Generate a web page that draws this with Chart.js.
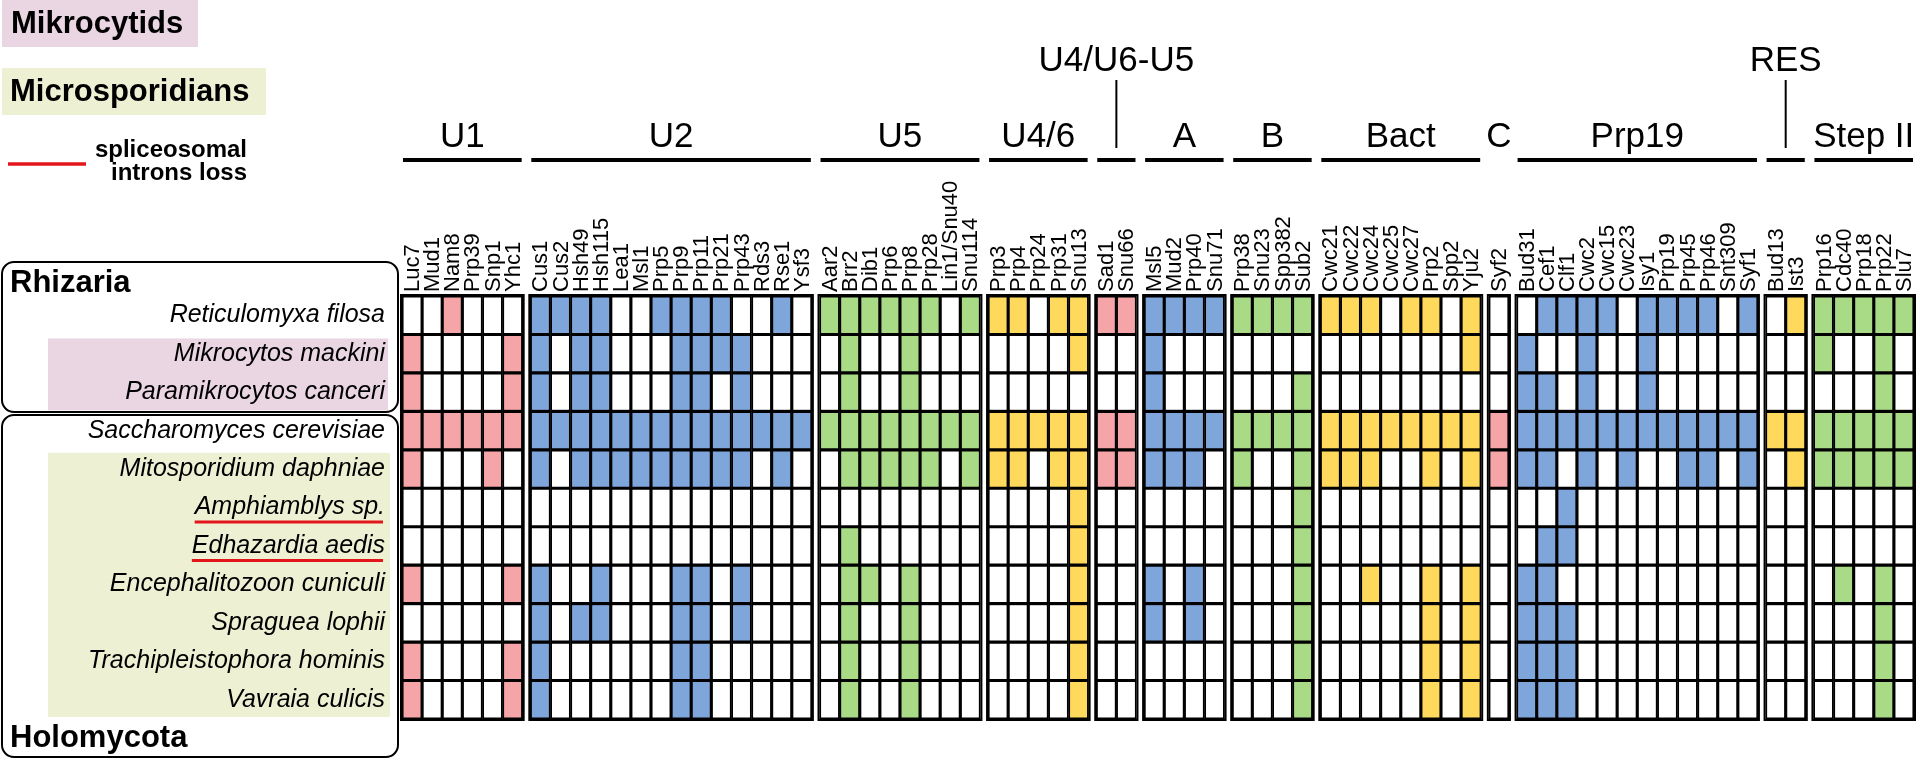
<!DOCTYPE html>
<html>
<head>
<meta charset="utf-8">
<script src="https://cdn.jsdelivr.net/npm/chart.js@4.4.0/dist/chart.umd.min.js"></script>
<style>
  html, body { margin: 0; padding: 0; background: #fff; }
  #wrap { width: 1920px; height: 761px; position: relative; }
</style>
</head>
<body>
<div id="wrap"><canvas id="grid"></canvas></div>
<script>
// species (rows, top to bottom)
const species = ['Reticulomyxa filosa', 'Mikrocytos mackini', 'Paramikrocytos canceri',
  'Saccharomyces cerevisiae', 'Mitosporidium daphniae', 'Amphiamblys sp.', 'Edhazardia aedis',
  'Encephalitozoon cuniculi', 'Spraguea lophii', 'Trachipleistophora hominis', 'Vavraia culicis'];
const intronLoss = ['Amphiamblys sp.', 'Edhazardia aedis'];
const mikrocytids = ['Mikrocytos mackini', 'Paramikrocytos canceri'];
const microsporidians = ['Mitosporidium daphniae', 'Amphiamblys sp.', 'Edhazardia aedis',
  'Encephalitozoon cuniculi', 'Spraguea lophii', 'Trachipleistophora hominis', 'Vavraia culicis'];

// spliceosome complexes and their proteins (columns)
const groupNames = ['U1', 'U2', 'U5', 'U4/6', 'U4/U6-U5', 'A', 'B', 'Bact', 'C', 'Prp19', 'RES', 'Step II'];
const raisedGroups = ['U4/U6-U5', 'RES'];
const unlinedGroups = ['C'];
const groupGenes = [
  ['Luc7', 'Mud1', 'Nam8', 'Prp39', 'Snp1', 'Yhc1'],
  ['Cus1', 'Cus2', 'Hsh49', 'Hsh115', 'Lea1', 'Msl1', 'Prp5', 'Prp9', 'Prp11', 'Prp21', 'Prp43', 'Rds3', 'Rse1', 'Ysf3'],
  ['Aar2', 'Brr2', 'Dib1', 'Prp6', 'Prp8', 'Prp28', 'Lin1/Snu40', 'Snu114'],
  ['Prp3', 'Prp4', 'Prp24', 'Prp31', 'Snu13'],
  ['Sad1', 'Snu66'],
  ['Msl5', 'Mud2', 'Prp40', 'Snu71'],
  ['Prp38', 'Snu23', 'Spp382', 'Sub2'],
  ['Cwc21', 'Cwc22', 'Cwc24', 'Cwc25', 'Cwc27', 'Prp2', 'Spp2', 'Yju2'],
  ['Syf2'],
  ['Bud31', 'Cef1', 'Clf1', 'Cwc2', 'Cwc15', 'Cwc23', 'Isy1', 'Prp19', 'Prp45', 'Prp46', 'Snt309', 'Syf1'],
  ['Bud13', 'Ist3'],
  ['Prp16', 'Cdc40', 'Prp18', 'Prp22', 'Slu7']
];
const groupColors = ['#F5A4A7', '#7FA6DB', '#A9DB87', '#FFD95B', '#F5A4A7', '#7FA6DB',
  '#A9DB87', '#FFD95B', '#F5A4A7', '#7FA6DB', '#FFD95B', '#A9DB87'];

// presence (1) / absence (0), one block per complex, one string per species
const presence = [
  '001000 11110011110010 11111101 11011 11 1111 1111 11101101 0 011110111101 01 11111',
  '100001 10110001111000 01001000 00001 00 1000 0000 00000001 0 100100100000 00 10010',
  '100001 10110001101000 01001000 00000 00 1000 0001 00000000 0 110100100000 00 00010',
  '111111 11111111111111 11111111 11111 11 1111 1111 11111111 1 111111111111 11 11111',
  '100010 10111111111010 01111101 11011 11 1110 1001 11100101 1 110101001101 01 11111',
  '000000 00000000000000 00000000 00001 00 0000 0001 00000000 0 001000000000 00 00000',
  '000000 00000000000000 01000000 00001 00 0000 0001 00000000 0 011000000000 00 00000',
  '100001 10010001101000 01101000 00001 00 1010 0001 00100101 0 110000000000 00 01010',
  '000000 10110001101000 01001000 00001 00 1010 0001 00000101 0 111000000000 00 00010',
  '100001 10000001100000 01001000 00001 00 0000 0001 00000101 0 111000000000 00 00010',
  '100001 10000001100000 01001000 00001 00 0000 0001 00000101 0 111000000000 00 00010'
];

const GAP = 0.38; // space between complexes, in columns
const FONT = '"Liberation Sans", Arial, sans-serif';

// x position of each column, per complex
const xVals = [];
let col = 0;
groupGenes.forEach((g, k) => {
  xVals.push(g.map((_, j) => col + j + k * GAP));
  col += g.length;
});
const allX = xVals.flat();

const datasets = species.map((sp, r) => {
  const bits = presence[r].split(' ');
  const data = [];
  const bg = [];
  groupGenes.forEach((g, k) => g.forEach((_, j) => {
    data.push({ x: xVals[k][j], y: [r, r + 1] });
    bg.push(bits[k][j] === '1' ? groupColors[k] : '#ffffff');
  }));
  return {
    label: sp, data: data, backgroundColor: bg,
    borderColor: '#000', borderWidth: 1.9, borderSkipped: false,
    grouped: false, barPercentage: 1, categoryPercentage: 1
  };
});

const panel = {
  id: 'panel',
  afterDraw(chart) {
    const ctx = chart.ctx;
    const x = chart.scales.x;
    const y = chart.scales.y;
    const top = y.getPixelForValue(0);
    const bottom = y.getPixelForValue(species.length);
    ctx.save();

    // legend
    ctx.fillStyle = '#E9D6E2';
    ctx.fillRect(2, 0, 196, 47);
    ctx.fillStyle = '#EEF0D3';
    ctx.fillRect(2, 68, 264, 47);
    ctx.fillStyle = '#000';
    ctx.textBaseline = 'middle';
    ctx.textAlign = 'left';
    ctx.font = 'bold 31px ' + FONT;
    ctx.fillText('Mikrocytids', 11, 24);
    ctx.fillText('Microsporidians', 10, 92);
    ctx.strokeStyle = '#E3161B';
    ctx.lineWidth = 3.5;
    ctx.beginPath(); ctx.moveTo(8, 164); ctx.lineTo(86, 164); ctx.stroke();
    ctx.textAlign = 'right';
    ctx.font = 'bold 24px ' + FONT;
    ctx.fillText('spliceosomal', 247, 150);
    ctx.fillText('introns loss', 247, 173);

    // highlight bands behind species names
    const rowTop = (name) => y.getPixelForValue(species.indexOf(name));
    const rowBot = (name) => y.getPixelForValue(species.indexOf(name) + 1);
    ctx.fillStyle = '#E9D6E2';
    ctx.fillRect(48, rowTop(mikrocytids[0]) + 4, 340, rowBot(mikrocytids[mikrocytids.length - 1]) - rowTop(mikrocytids[0]) - 5);
    ctx.fillStyle = '#EEF0D3';
    ctx.fillRect(48, rowTop(microsporidians[0]) + 3, 342, rowBot(microsporidians[microsporidians.length - 1]) - rowTop(microsporidians[0]) - 5);

    // clade boxes
    ctx.strokeStyle = '#000';
    ctx.lineWidth = 2;
    ctx.beginPath(); ctx.roundRect(2, 262, 396, 150, 12); ctx.stroke();
    ctx.beginPath(); ctx.roundRect(2, 415, 396, 342, 12); ctx.stroke();
    ctx.fillStyle = '#000';
    ctx.textAlign = 'left';
    ctx.font = 'bold 31px ' + FONT;
    ctx.fillText('Rhizaria', 10, 283);
    ctx.fillText('Holomycota', 10, 738);

    // species names
    ctx.textAlign = 'right';
    ctx.font = 'italic 25px ' + FONT;
    species.forEach((sp, r) => {
      const cy = y.getPixelForValue(r + 0.5);
      ctx.fillStyle = '#000';
      ctx.fillText(sp, 385, cy);
      if (intronLoss.includes(sp)) {
        const w = ctx.measureText(sp).width;
        ctx.strokeStyle = '#E3161B';
        ctx.lineWidth = 3;
        ctx.beginPath(); ctx.moveTo(385 - w, cy + 14.5); ctx.lineTo(383, cy + 14.5); ctx.stroke();
      }
    });

    // complex frames, headers and protein names
    groupGenes.forEach((g, k) => {
      const l = x.getPixelForValue(xVals[k][0] - 0.5);
      const r = x.getPixelForValue(xVals[k][g.length - 1] + 0.5);
      const cx = (l + r) / 2;
      ctx.strokeStyle = '#000';
      ctx.lineWidth = 2;
      ctx.strokeRect(l - 1, top - 1, r - l + 2, bottom - top + 2);

      if (!unlinedGroups.includes(groupNames[k])) {
        ctx.lineWidth = 4;
        ctx.beginPath(); ctx.moveTo(l + 1, 160); ctx.lineTo(r - 1, 160); ctx.stroke();
      }
      ctx.fillStyle = '#000';
      ctx.textAlign = 'center';
      ctx.textBaseline = 'alphabetic';
      ctx.font = '35px ' + FONT;
      if (raisedGroups.includes(groupNames[k])) {
        ctx.fillText(groupNames[k], cx, 71);
        ctx.lineWidth = 2;
        ctx.beginPath(); ctx.moveTo(cx, 80); ctx.lineTo(cx, 148); ctx.stroke();
      } else {
        ctx.fillText(groupNames[k], cx, 147);
      }

      ctx.font = '22px ' + FONT;
      ctx.textAlign = 'left';
      ctx.textBaseline = 'middle';
      g.forEach((gene, j) => {
        ctx.save();
        ctx.translate(x.getPixelForValue(xVals[k][j]) + 1, top - 4);
        ctx.rotate(-Math.PI / 2);
        ctx.fillText(gene, 0, 0);
        ctx.restore();
      });
    });
    ctx.restore();
  }
};

new Chart(document.getElementById('grid'), {
  type: 'bar',
  data: { datasets: datasets },
  options: {
    responsive: true,
    maintainAspectRatio: false,
    animation: false,
    events: [],
    layout: { padding: { left: 402, right: 6, top: 296, bottom: 42 } },
    scales: {
      x: {
        type: 'linear', display: false, offset: false,
        min: -0.5, max: allX[allX.length - 1] + 0.5,
        afterBuildTicks: (s) => { s.ticks = [{ value: s.min }, { value: s.max }]; }
      },
      y: { type: 'linear', display: false, reverse: true, min: 0, max: species.length }
    },
    plugins: { legend: { display: false }, tooltip: { enabled: false } }
  },
  plugins: [panel]
});
</script>
</body>
</html>
